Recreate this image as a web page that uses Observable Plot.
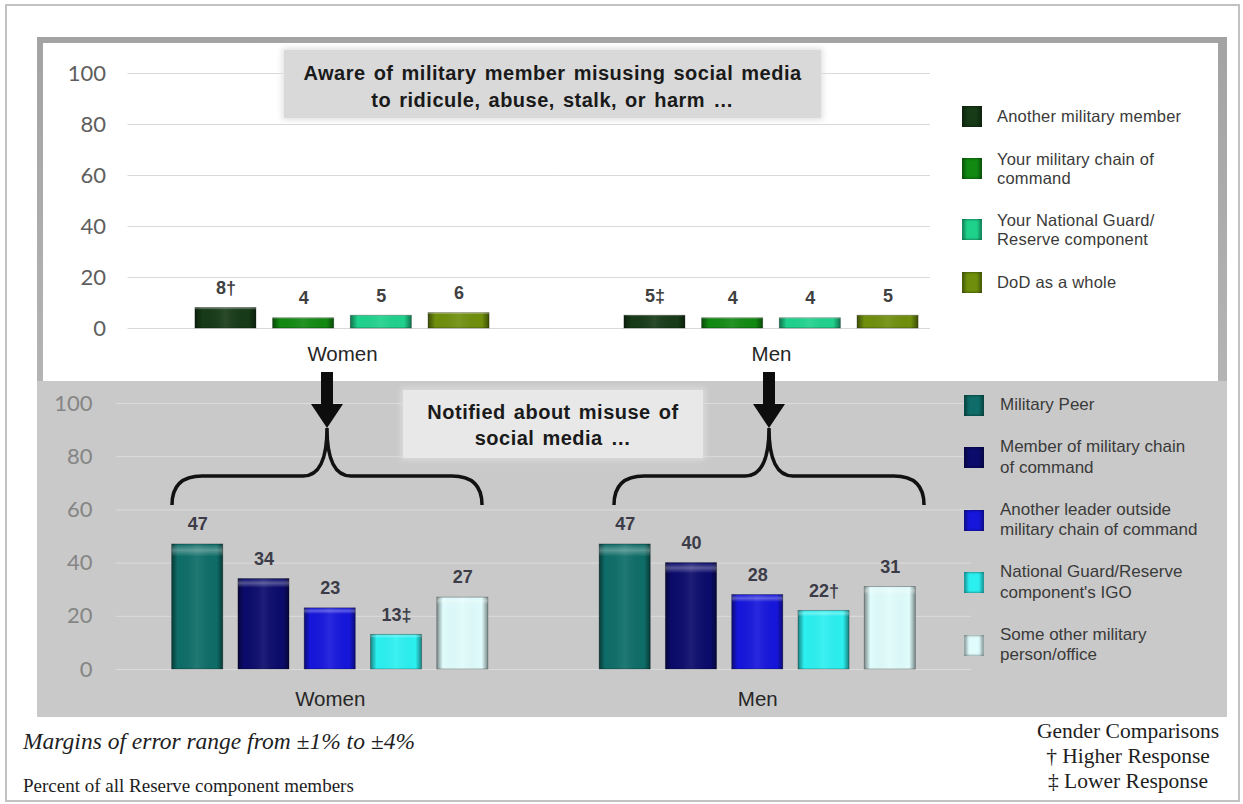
<!DOCTYPE html>
<html><head><meta charset="utf-8">
<script src="https://cdn.jsdelivr.net/npm/d3@7"></script>
<script src="https://cdn.jsdelivr.net/npm/@observablehq/plot@0.6"></script>
<style>
body{margin:0;width:1243px;height:804px;position:relative;background:#fff;overflow:hidden;font-family:"Liberation Sans",Arial,sans-serif;}
.abs{position:absolute;}
#outer{left:5px;top:4px;width:1235px;height:798px;border:2px solid #c2c2c2;box-sizing:border-box;}
#frame{left:37px;top:37px;width:1190px;height:345px;background:linear-gradient(#a3a3a3,#b4b4b4);}
#white{left:43px;top:43px;width:1175px;height:338px;background:#fff;}
#gray{left:37px;top:381px;width:1190px;height:336px;background:#c9c9c9;}
.plotwrap{left:0;top:0;}
.plotwrap svg{overflow:visible;}
.ttl{text-align:center;font-weight:bold;color:#1a1a1a;font-size:20px;letter-spacing:0.5px;word-spacing:2px;}
#t1{left:284px;top:50px;width:537px;height:68px;background:#d9d9d9;box-shadow:0 0 6px 2px #e2e2e2;padding-top:10px;box-sizing:border-box;line-height:27px;}
#t2{left:403px;top:390px;width:300px;height:68px;background:#e8e8e8;box-shadow:0 0 6px 2px #dcdcdc;padding-top:9px;box-sizing:border-box;line-height:26px;}
.legend{display:flex;flex-direction:column;}
.legend .item{display:flex;align-items:center;}
.legend .sw{width:20px;height:21px;flex:none;box-shadow:inset 3px 0 3px rgba(0,0,0,.35),inset -3px 0 3px rgba(0,0,0,.35);}
.legend .lb{white-space:pre-line;color:#3a3a3a;}
#leg1{left:930px;top:60px;width:285px;height:270px;background:#fff;}
#leg1 .legend{position:absolute;left:32px;top:45.5px;gap:23px;}
#leg1 .lb{font-size:16.5px;line-height:19px;margin-left:15px;letter-spacing:0.2px;}
#leg2{left:964px;top:394.5px;gap:21.5px;}
#leg2 .lb{font-size:17px;line-height:20.5px;margin-left:16px;}
.foot{font-family:"Liberation Serif","Times New Roman",serif;color:#1e1e1e;}
#f1{left:23px;top:728px;font-size:23.5px;line-height:26px;font-style:italic;}
#f2{left:23px;top:775px;font-size:19px;line-height:22px;}
#f3{left:1018px;top:718.5px;width:220px;text-align:center;font-size:21.5px;line-height:25px;}
[aria-label^="fx-axis"] text{font-family:"Liberation Sans",Arial,sans-serif;font-size:20.5px;fill:#262626;}
</style></head><body>
<svg width="0" height="0" style="position:absolute">
  <defs>
    <linearGradient id="shineH" x1="0" x2="1" y1="0" y2="0">
      <stop offset="0" stop-color="#000" stop-opacity="0.45"/>
      <stop offset="0.12" stop-color="#000" stop-opacity="0"/>
      <stop offset="0.5" stop-color="#fff" stop-opacity="0.08"/>
      <stop offset="0.88" stop-color="#000" stop-opacity="0"/>
      <stop offset="1" stop-color="#000" stop-opacity="0.45"/>
    </linearGradient>
    <linearGradient id="shineV" x1="0" x2="0" y1="0" y2="1">
      <stop offset="0" stop-color="#fff" stop-opacity="0"/>
      <stop offset="0.05" stop-color="#fff" stop-opacity="0.3"/>
      <stop offset="0.1" stop-color="#fff" stop-opacity="0"/>
      <stop offset="1" stop-color="#fff" stop-opacity="0"/>
    </linearGradient>
  </defs>
</svg>
<div id="outer" class="abs"></div>
<div id="frame" class="abs"></div>
<div id="white" class="abs"></div>
<div id="gray" class="abs"></div>
<div id="p1" class="abs plotwrap"></div>
<div id="p2" class="abs plotwrap" style="top:381px"></div>
<div id="t1" class="abs ttl">Aware of military member misusing social media<br>to ridicule, abuse, stalk, or harm …</div>
<div id="t2" class="abs ttl">Notified about misuse of<br>social media …</div>
<div id="leg1" class="abs"><div class="legend"></div></div>
<div id="leg2" class="abs legend"></div>
<svg id="anno" class="abs" style="left:0;top:0" width="1243" height="804"></svg>
<div id="f1" class="abs foot">Margins of error range from ±1% to ±4%</div>
<div id="f2" class="abs foot">Percent of all Reserve component members</div>
<div id="f3" class="abs foot">Gender Comparisons<br>† Higher Response<br>‡ Lower Response</div>
<script>
// ---- data ----
const groups = ["Women", "Men"];

const awareSeries = ["Another military member", "Your military chain of\ncommand", "Your National Guard/\nReserve component", "DoD as a whole"];
const awareColors = ["#173a17", "#128a12", "#1fd28c", "#6f8f0c"];
const awareWomen = [8, 4, 5, 6];
const awareMen = [5, 4, 4, 5];
const awareWomenMark = ["†", "", "", ""];
const awareMenMark = ["‡", "", "", ""];

const notifiedSeries = ["Military Peer", "Member of military chain\nof command", "Another leader outside\nmilitary chain of command", "National Guard/Reserve\ncomponent's IGO", "Some other military\nperson/office"];
const notifiedColors = ["#0e6d68", "#0b0b6c", "#1616dc", "#2cf0f0", "#e0fcfc"];
const notifiedWomen = [47, 34, 23, 13, 27];
const notifiedMen = [47, 40, 28, 22, 31];
const notifiedWomenMark = ["", "", "", "‡", ""];
const notifiedMenMark = ["", "", "", "†", ""];

// ---- tables ----
function rows(series, byGroup) {
  const out = [];
  groups.forEach((g, gi) => {
    const [vals, marks] = byGroup[gi];
    series.forEach((s, i) => out.push({group: g, series: s, value: vals[i], mark: marks[i]}));
  });
  return out;
}
const topRows = rows(awareSeries, [[awareWomen, awareWomenMark], [awareMen, awareMenMark]]);
const botRows = rows(notifiedSeries, [[notifiedWomen, notifiedWomenMark], [notifiedMen, notifiedMenMark]]);

function barsPlot(data, series, colors, o) {
  return Plot.plot({
    width: 1243, height: o.height,
    marginTop: o.mt, marginBottom: o.mb, marginLeft: o.ml, marginRight: o.mr,
    style: {background: "transparent", fontFamily: "Lato, sans-serif", fontSize: "22px", color: o.tickColor, overflow: "visible"},
    facet: {data, x: "group"},
    fx: {domain: groups, paddingInner: 0, paddingOuter: 0, round: false, label: null, axis: "bottom", tickSize: 0, tickPadding: o.fxPad},
    x: {domain: series, paddingInner: o.pi, paddingOuter: o.po, round: false, axis: null},
    y: {domain: [0, 100], ticks: 5, tickSize: 0, tickPadding: o.yPad, label: null},
    color: {domain: series, range: colors},
    marks: [
      Plot.ruleY([0, 20, 40, 60, 80, 100], {stroke: o.gridColor, strokeOpacity: o.gridOpacity}),
      Plot.barY(data, {x: "series", y: "value", fill: "series", stroke: "#000", strokeOpacity: 0.3}),
      Plot.barY(data, {x: "series", y: "value", fill: "url(#shineH)"}),
      Plot.barY(data, {x: "series", y: "value", fill: "url(#shineV)"}),
      Plot.text(data, {x: "series", y: "value", text: d => d.value + d.mark, dy: -20, lineAnchor: "middle",
        fontWeight: "bold", fontSize: 18, fontFamily: "Liberation Sans, Arial, sans-serif", fill: o.labelColor})
    ]
  });
}

const p1 = barsPlot(topRows, awareSeries, awareColors, {
  height: 375, mt: 73, mb: 47, ml: 127.5, mr: 257.5, fxPad: 18, yPad: 22,
  pi: 0.215, po: 0.868, tickColor: "#5e5e5e", gridColor: "#d9d9d9", gridOpacity: 1, labelColor: "#404040"
});
document.getElementById("p1").appendChild(p1);

const p2 = barsPlot(botRows, notifiedSeries, notifiedColors, {
  height: 333, mt: 22, mb: 45, ml: 116, mr: 272, fxPad: 22, yPad: 24,
  pi: 0.23, po: 0.84, tickColor: "#858585", gridColor: "#ffffff", gridOpacity: 0.35, labelColor: "#3c3c48"
});
document.getElementById("p2").appendChild(p2);

// ---- legends ----
function legend(el, series, colors) {
  const items = d3.select(el).selectAll(".item").data(series).join("div").attr("class", "item");
  items.append("div").attr("class", "sw").style("background", (d, i) => colors[i]);
  items.append("div").attr("class", "lb").text(d => d);
}
legend(document.querySelector("#leg1 .legend"), awareSeries, awareColors);
legend(document.getElementById("leg2"), notifiedSeries, notifiedColors);

// ---- arrows and braces (annotations) ----
const anno = d3.select("#anno");
[327, 769].forEach(cx => {
  anno.append("rect").attr("x", cx - 6).attr("y", 372).attr("width", 12).attr("height", 34).attr("fill", "#0d0d0d");
  anno.append("path").attr("d", `M${cx - 16},404 L${cx + 16},404 L${cx},428 Z`).attr("fill", "#0d0d0d");
  const hw = 155, ty = 428, hy = 476, ey = 505;
  const d = `M${cx - hw},${ey} Q${cx - hw},${hy} ${cx - hw + 30},${hy} L${cx - 24},${hy} C${cx - 8},${hy} ${cx},${hy - 16} ${cx},${ty}` +
            ` C${cx},${hy - 16} ${cx + 8},${hy} ${cx + 24},${hy} L${cx + hw - 30},${hy} Q${cx + hw},${hy} ${cx + hw},${ey}`;
  anno.append("path").attr("d", d).attr("fill", "none").attr("stroke", "#111").attr("stroke-width", 3.5);
});
</script>
</body></html>
